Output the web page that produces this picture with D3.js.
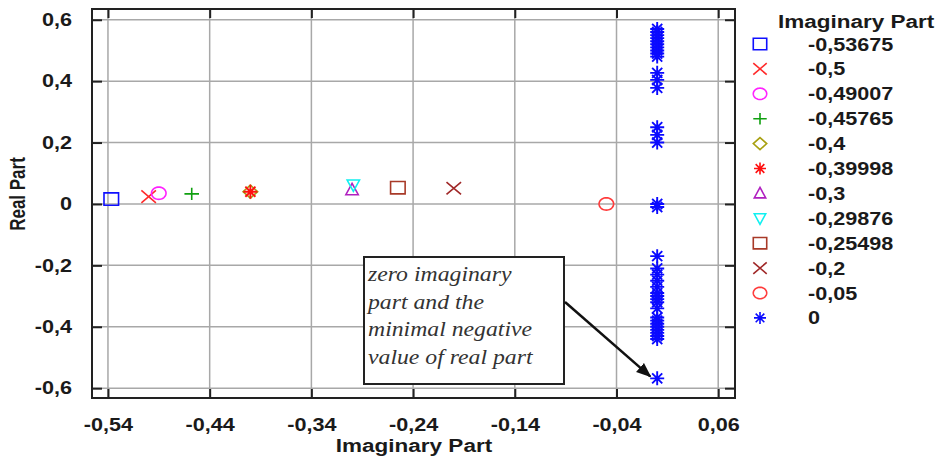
<!DOCTYPE html>
<html>
<head>
<meta charset="utf-8">
<script src="https://cdn.jsdelivr.net/npm/d3@7"></script>
<style>
  body { margin: 0; background: #fff; }
  .chart text { font-family: "Liberation Sans", Arial, sans-serif; font-weight: bold; fill: #1a1a1a; }
  .chart .note text { font-family: "Liberation Serif", "Times New Roman", serif; font-style: italic; font-weight: normal; fill: #333; }
</style>
</head>
<body>
<div class="chart"></div>
<script>
// legend keys = imaginary part of each series
const seriesKeys = [-0.53675, -0.5, -0.49007, -0.45765, -0.4, -0.39998, -0.3, -0.29876, -0.25498, -0.2, -0.05, 0];
const seriesLabels = ["-0,53675", "-0,5", "-0,49007", "-0,45765", "-0,4", "-0,39998", "-0,3", "-0,29876", "-0,25498", "-0,2", "-0,05", "0"];
const seriesShapes = ["square", "x", "circle", "plus", "diamond", "asterisk", "triangle", "triangleDown", "square", "x", "circle", "asterisk"];
const seriesColors = ["#1010ff", "#ff2a2a", "#ff20ff", "#10a010", "#a8a010", "#ff1010", "#b020c0", "#10f0f0", "#a83a28", "#a02828", "#ff3a3a", "#0a0aff"];

// real parts, one list per series
const realParts = [
  [0.016],
  [0.024],
  [0.035],
  [0.033],
  [0.04],
  [0.04],
  [0.046],
  [0.062],
  [0.053],
  [0.051],
  [0],
  [0.57, 0.56, 0.55, 0.54, 0.53, 0.52, 0.51, 0.50, 0.49, 0.48,
   0.427, 0.404, 0.378,
   0.25, 0.225, 0.2,
   0.0, -0.01,
   -0.17, -0.21, -0.23, -0.25, -0.27, -0.29, -0.30, -0.31, -0.32, -0.34,
   -0.37, -0.38, -0.39, -0.40, -0.41, -0.42, -0.43, -0.44,
   -0.568]
];

const xTicks = [-0.54, -0.44, -0.34, -0.24, -0.14, -0.04, 0.06];
const yTicks = [-0.6, -0.4, -0.2, 0, 0.2, 0.4, 0.6];
const noteLines = ["zero imaginary", "part and the", "minimal negative", "value of real part"];

// the picture is squashed a bit wider than the font, stretch text to match
const STRETCH = 1.2;

const margin = ({top: 9, right: 207, bottom: 61, left: 92});
const W = 942, H = 459;
const w = W - margin.left - margin.right;
const h = H - margin.top - margin.bottom;

const svg = d3.select(".chart").append("svg")
    .attr("width", W).attr("height", H);
const g = svg.append("g")
    .attr("transform", "translate(" + margin.left + "," + margin.top + ")");

const xScale = d3.scaleLinear().domain([-0.5557, 0.0765]).range([0, w]);
const yScale = d3.scaleLinear().domain([-0.632, 0.635]).range([h, 0]);

const loc = d3.formatLocale({decimal: ",", thousands: ".", grouping: [3], currency: ["", ""], minus: "-"});
const fx = loc.format(".2f"), fy = loc.format(".1f");

function stretch(sel, k) {
  sel.each(function() {
    const len = this.getComputedTextLength();
    d3.select(this).attr("textLength", len * k).attr("lengthAdjust", "spacingAndGlyphs");
  });
}

// marker shapes drawn as outlines, a touch wider than tall like the source
function shapePath(type, r) {
  const p = d3.path();
  const a = r * 1.12, b = r * 0.95;
  if (type === "square") { p.rect(-a, -b, 2 * a, 2 * b); }
  else if (type === "circle") { p.ellipse ? p.ellipse(0, 0, a, b) : null;
    p.moveTo(a, 0);
    for (let t = 1; t <= 40; t++) { const th = t / 40 * 2 * Math.PI; p.lineTo(a * Math.cos(th), b * Math.sin(th)); }
    p.closePath(); }
  else if (type === "diamond") { p.moveTo(0, -r); p.lineTo(a, 0); p.lineTo(0, r); p.lineTo(-a, 0); p.closePath(); }
  else if (type === "triangle") { p.moveTo(0, -r); p.lineTo(a * 0.85, r * 0.75); p.lineTo(-a * 0.85, r * 0.75); p.closePath(); }
  else if (type === "triangleDown") { p.moveTo(0, r); p.lineTo(a * 0.85, -r * 0.75); p.lineTo(-a * 0.85, -r * 0.75); p.closePath(); }
  else if (type === "x") { p.moveTo(-a, -b); p.lineTo(a, b); p.moveTo(a, -b); p.lineTo(-a, b); }
  else if (type === "plus") { p.moveTo(-a, 0); p.lineTo(a, 0); p.moveTo(0, -b); p.lineTo(0, b); }
  else if (type === "asterisk") {
    const d = r * 0.72;
    p.moveTo(-r, 0); p.lineTo(r, 0); p.moveTo(0, -r); p.lineTo(0, r);
    p.moveTo(-d, -d); p.lineTo(d, d); p.moveTo(d, -d); p.lineTo(-d, d);
  }
  return p.toString();
}

// gridlines
g.append("g").selectAll("line").data(xTicks).join("line")
    .attr("x1", d => xScale(d)).attr("x2", d => xScale(d))
    .attr("y1", 0).attr("y2", h)
    .attr("stroke", "#a8a8a8").attr("stroke-width", 1.5);
g.append("g").selectAll("line").data(yTicks).join("line")
    .attr("y1", d => yScale(d)).attr("y2", d => yScale(d))
    .attr("x1", 0).attr("x2", w)
    .attr("stroke", "#a8a8a8").attr("stroke-width", 1.5);

// axes with inward ticks on all four sides
const xAxis = d3.axisBottom(xScale).tickValues(xTicks).tickSize(-9).tickPadding(20).tickFormat(fx);
const yAxis = d3.axisLeft(yScale).tickValues(yTicks).tickSize(-10).tickPadding(20).tickFormat(d => d === 0 ? "0" : fy(d));

const xAxisDisplay = g.append("g").attr("class", "axis x-axis")
    .attr("transform", `translate(0, ${h})`).call(xAxis);
const yAxisDisplay = g.append("g").attr("class", "axis y-axis").call(yAxis);
g.append("g").attr("transform", "translate(0,0)")
    .call(d3.axisTop(xScale).tickValues(xTicks).tickSize(-9).tickFormat(""));
g.append("g").attr("transform", `translate(${w},0)`)
    .call(d3.axisRight(yScale).tickValues(yTicks).tickSize(-10).tickFormat(""));

g.selectAll(".domain").remove();
g.selectAll(".tick line").attr("stroke", "#222").attr("stroke-width", 2);
g.selectAll(".axis text").attr("font-size", 18).attr("fill", "#1a1a1a")
    .style("font-family", "'Liberation Sans', Arial, sans-serif").style("font-weight", "bold");
xAxisDisplay.selectAll("text").attr("dy", "0.71em");
stretch(g.selectAll(".axis text"), STRETCH);

// frame
g.append("rect").attr("width", w).attr("height", h)
    .attr("fill", "none").attr("stroke", "#222").attr("stroke-width", 2);

// points
seriesKeys.forEach((key, i) => {
  g.append("g").selectAll("path").data(realParts[i]).join("path")
      .attr("transform", d => `translate(${xScale(key)},${yScale(d)})`)
      .attr("d", shapePath(seriesShapes[i], seriesShapes[i] === "asterisk" ? 7 : 6.5))
      .attr("fill", "none")
      .attr("stroke", seriesColors[i])
      .attr("stroke-width", seriesShapes[i] === "asterisk" ? 1.9 : 1.6);
});

// annotation box with arrow to the lowest point
const note = g.append("g").attr("class", "note");
note.append("rect")
    .attr("x", 364 - margin.left).attr("y", 257 - margin.top)
    .attr("width", 200).attr("height", 127)
    .attr("fill", "#fff").attr("stroke", "#222").attr("stroke-width", 2);
note.selectAll("text").data(noteLines).join("text")
    .attr("x", 368 - margin.left)
    .attr("y", (d, i) => 281 - margin.top + i * 27.6)
    .attr("font-size", 21)
    .text(d => d);
stretch(note.selectAll("text"), 1.13);

svg.append("defs").append("marker")
    .attr("id", "arrow").attr("viewBox", "0 0 10 10")
    .attr("refX", 9).attr("refY", 5)
    .attr("markerWidth", 6).attr("markerHeight", 6)
    .attr("orient", "auto")
  .append("path").attr("d", "M0,1L10,5L0,9Z").attr("fill", "#111");

const minReal = d3.min(realParts[11]);
note.append("line")
    .attr("x1", 565 - margin.left).attr("y1", 302 - margin.top)
    .attr("x2", xScale(0) - 7).attr("y2", yScale(minReal) - 2)
    .attr("stroke", "#111").attr("stroke-width", 2.5)
    .attr("marker-end", "url(#arrow)");

// axis titles
svg.append("text")
    .attr("x", 414).attr("y", 452)
    .attr("text-anchor", "middle").attr("font-size", 18)
    .text("Imaginary Part")
    .call(stretch, 1.25);
svg.append("text")
    .attr("transform", "translate(25,194) scale(1.25,1) rotate(-90)")
    .attr("text-anchor", "middle").attr("font-size", 17)
    .text("Real Part");

// legend
const legend = svg.append("g").attr("class", "legend");
legend.append("text").attr("x", 778).attr("y", 28).attr("font-size", 18)
    .text("Imaginary Part").call(stretch, 1.25);
const rows = legend.selectAll("g.row").data(seriesLabels).join("g")
    .attr("class", "row")
    .attr("transform", (d, i) => `translate(0, ${44 + i * 24.9})`);
rows.append("path")
    .attr("transform", "translate(760,0)")
    .attr("d", (d, i) => shapePath(seriesShapes[i], 6))
    .attr("fill", "none")
    .attr("stroke", (d, i) => seriesColors[i])
    .attr("stroke-width", 1.6);
rows.append("text").attr("x", 808).attr("y", 6.5).attr("font-size", 18)
    .text(d => d);
stretch(rows.selectAll("text"), STRETCH);
</script>
</body>
</html>
